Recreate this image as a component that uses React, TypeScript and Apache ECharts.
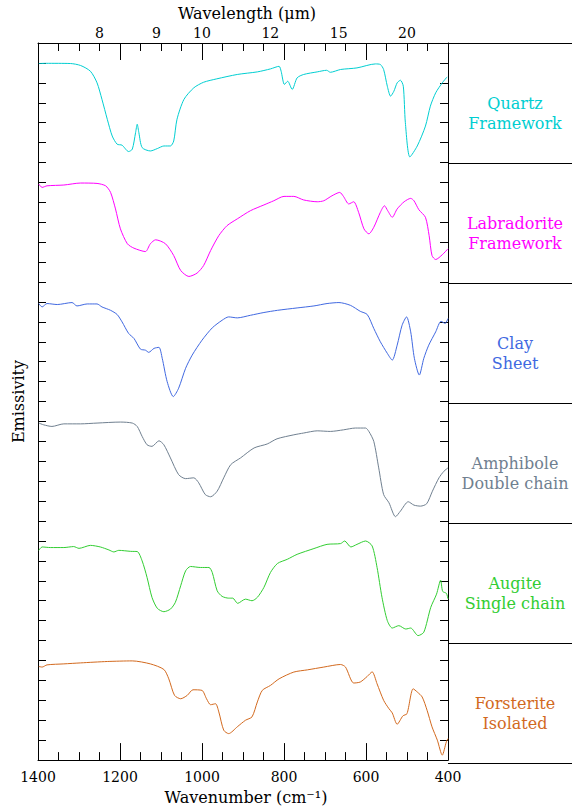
import React, { useEffect, useRef } from "react";
import * as echarts from "echarts";

// ---- data (wavenumber cm^-1, emissivity in tick units within each panel: 0 = panel bottom, 6 = panel top)
const quartz: number[][] = [
  [1398, 4.97], [1380, 4.98], [1321, 4.97], [1296, 4.87], [1272, 4.58], [1256, 4.0], [1244, 3.17],
  [1231, 2.17], [1219, 1.33], [1207, 0.92], [1195, 0.87], [1179, 0.55], [1170, 0.67], [1162, 1.5],
  [1158, 1.92], [1154, 1.5], [1146, 0.75], [1126, 0.58], [1109, 0.7], [1093, 0.83], [1077, 0.83],
  [1069, 1.08], [1061, 2.17], [1044, 3.17], [1020, 3.75], [996, 4.03], [964, 4.2], [914, 4.42],
  [865, 4.55], [833, 4.7], [812, 4.83], [807, 4.58], [799, 3.92], [791, 4.08], [780, 3.67],
  [768, 4.25], [752, 4.42], [719, 4.55], [696, 4.63], [687, 4.53], [662, 4.67], [622, 4.75],
  [577, 4.95], [565, 4.92], [557, 4.67], [548, 3.83], [540, 3.33], [532, 3.58], [524, 4.0],
  [516, 4.13], [509, 3.83], [504, 2.0], [493, 0.28], [475, 0.83], [455, 1.83], [443, 2.83],
  [430, 3.5], [414, 4.0], [402, 4.3],
];
const labradorite: number[][] = [
  [1398, 4.92], [1390, 4.75], [1378, 4.83], [1337, 4.87], [1296, 4.97], [1256, 4.95], [1235, 4.83],
  [1223, 4.5], [1211, 3.67], [1199, 2.67], [1182, 1.92], [1166, 1.7], [1138, 1.53], [1126, 1.92],
  [1113, 2.12], [1089, 1.92], [1069, 1.33], [1052, 0.58], [1032, 0.28], [1012, 0.45], [996, 0.83],
  [979, 1.58], [959, 2.33], [939, 2.83], [914, 3.17], [882, 3.58], [849, 3.87], [825, 4.08],
  [800, 4.3], [776, 4.3], [752, 4.12], [719, 4.03], [703, 4.08], [683, 4.33], [664, 4.5],
  [655, 4.3], [642, 3.92], [630, 4.03], [618, 3.5], [605, 2.67], [593, 2.42], [581, 2.75],
  [565, 3.5], [555, 3.83], [547, 3.58], [536, 3.25], [524, 3.67], [507, 4.03], [491, 4.2],
  [483, 4.08], [471, 3.63], [455, 3.25], [446, 2.33], [439, 1.33], [430, 1.13], [414, 1.37],
  [400, 1.67],
];
const clay: number[][] = [
  [1398, 4.92], [1390, 4.75], [1378, 4.92], [1353, 4.87], [1317, 4.97], [1305, 4.8], [1280, 4.9],
  [1256, 4.9], [1244, 4.75], [1223, 4.58], [1207, 4.37], [1195, 4.0], [1179, 3.42], [1166, 3.17],
  [1150, 2.63], [1138, 2.58], [1130, 2.47], [1117, 2.67], [1105, 2.72], [1097, 2.17], [1085, 1.0],
  [1070, 0.25], [1057, 0.67], [1040, 1.67], [1024, 2.33], [1000, 3.08], [975, 3.7], [951, 4.08],
  [935, 4.25], [914, 4.2], [882, 4.33], [849, 4.47], [816, 4.58], [768, 4.7], [727, 4.8],
  [695, 4.92], [666, 4.97], [638, 4.83], [614, 4.53], [597, 4.37], [581, 3.67], [565, 3.0],
  [548, 2.42], [536, 2.08], [524, 2.83], [512, 3.83], [501, 4.25], [491, 3.5], [482, 2.17],
  [470, 1.33], [459, 2.17], [447, 2.83], [430, 3.5], [417, 4.03], [407, 3.92], [400, 4.17],
];
const amphibole: number[][] = [
  [1398, 4.92], [1386, 4.83], [1366, 4.75], [1337, 4.88], [1296, 4.88], [1256, 4.92], [1199, 4.97],
  [1170, 4.92], [1158, 4.75], [1146, 4.25], [1134, 3.83], [1122, 3.75], [1105, 4.03], [1093, 3.83],
  [1077, 3.17], [1057, 2.33], [1040, 2.13], [1020, 2.17], [1008, 1.92], [992, 1.33], [979, 1.22],
  [963, 1.5], [947, 2.17], [930, 2.83], [906, 3.17], [873, 3.67], [841, 3.87], [817, 4.13],
  [776, 4.33], [752, 4.42], [719, 4.53], [687, 4.5], [655, 4.58], [626, 4.67], [601, 4.67],
  [593, 4.5], [581, 4.0], [569, 2.67], [557, 1.33], [544, 0.92], [528, 0.22], [516, 0.5],
  [497, 0.97], [483, 0.8], [467, 0.75], [452, 0.87], [438, 1.5], [422, 2.17], [410, 2.5],
  [400, 2.67],
];
const augite: number[][] = [
  [1398, 4.53], [1390, 4.7], [1370, 4.67], [1337, 4.67], [1313, 4.72], [1300, 4.63], [1272, 4.78],
  [1248, 4.7], [1227, 4.55], [1215, 4.45], [1203, 4.53], [1174, 4.48], [1158, 4.47], [1146, 4.0],
  [1134, 3.17], [1122, 2.17], [1109, 1.62], [1093, 1.45], [1077, 1.58], [1065, 1.92], [1052, 2.75],
  [1040, 3.5], [1028, 3.72], [1004, 3.67], [983, 3.67], [975, 3.42], [963, 2.5], [951, 2.22],
  [935, 2.13], [925, 2.13], [913, 1.87], [894, 2.08], [878, 2.0], [865, 2.17], [849, 2.67],
  [833, 3.42], [816, 3.87], [792, 4.08], [768, 4.33], [727, 4.62], [695, 4.83], [662, 4.87],
  [652, 5.0], [637, 4.7], [622, 4.83], [601, 5.0], [585, 4.75], [573, 3.67], [561, 2.17],
  [548, 1.0], [536, 0.63], [520, 0.75], [503, 0.58], [491, 0.63], [473, 0.25], [459, 0.42],
  [442, 1.67], [428, 2.33], [418, 3.03], [413, 2.47], [404, 2.37], [400, 2.1],
];
const forsterite: number[][] = [
  [1398, 4.7], [1390, 4.67], [1378, 4.78], [1337, 4.83], [1296, 4.88], [1231, 4.95], [1170, 4.98],
  [1126, 4.83], [1093, 4.55], [1081, 4.08], [1067, 3.25], [1052, 3.08], [1036, 3.25], [1022, 3.53],
  [1000, 3.5], [989, 3.08], [979, 2.78], [967, 2.83], [959, 2.42], [947, 1.5], [935, 1.33],
  [914, 1.67], [894, 2.0], [878, 2.17], [865, 2.92], [853, 3.5], [833, 3.75], [812, 4.08],
  [776, 4.42], [743, 4.53], [703, 4.67], [662, 4.8], [650, 4.67], [630, 3.87], [614, 3.92],
  [597, 4.2], [585, 4.43], [573, 3.83], [557, 3.0], [544, 2.58], [536, 2.37], [524, 1.8],
  [510, 2.22], [500, 2.33], [485, 3.58], [475, 3.42], [463, 3.17], [451, 2.5], [439, 1.67],
  [426, 1.0], [414, 0.25], [404, 0.92], [400, 1.08],
];

const spectra = [quartz, labradorite, clay, amphibole, augite, forsterite];
const mineralNames = ["Quartz", "Labradorite", "Clay", "Amphibole", "Augite", "Forsterite"];
const structureNames = ["Framework", "Framework", "Sheet", "Double chain", "Single chain", "Isolated"];
const colors = ["#00CED1", "#FF00FF", "#4169E1", "#708090", "#32CD32", "#D2691E"];
const wavelengthTicks = [8, 9, 10, 12, 15, 20];

const WN_MIN = 400;
const WN_MAX = 1400;
const WN_STEP = 200;
const PANEL_UNITS = 6;

// ---- layout
const FONT = '"DejaVu Serif", "Liberation Serif", serif';
const W = 572;
const H = 810;
const GRID_LEFT = 38;
const GRID_TOP = 43;
const GRID_W = 410;
const GRID_H = 720;

export default function App() {
  const ref = useRef<HTMLDivElement>(null);

  useEffect(() => {
    if (!ref.current) return;
    const chart = echarts.init(ref.current, undefined, { renderer: "svg" });
    const nPanels = spectra.length;
    const yMax = nPanels * PANEL_UNITS;
    const panelPx = GRID_H / nPanels;
    const black = "#000";

    const baseX = {
      type: "value" as const,
      min: WN_MIN,
      max: WN_MAX,
      inverse: true,
      interval: WN_STEP,
      splitLine: { show: false },
      minorSplitLine: { show: false },
    };

    const series = spectra.map((pts, i) => {
      const offset = (nPanels - 1 - i) * PANEL_UNITS;
      return {
        type: "line",
        name: mineralNames[i],
        xAxisIndex: 0,
        yAxisIndex: 0,
        data: pts.map(([w, v]) => [w, v + offset]),
        showSymbol: false,
        symbol: "none",
        smooth: 0.25,
        lineStyle: { color: colors[i], width: 1 },
        itemStyle: { color: colors[i] },
        silent: true,
      };
    });

    const graphics: any[] = [];
    const rightX = GRID_LEFT + GRID_W;
    for (let k = 0; k <= nPanels; k++) {
      const y = Math.round(GRID_TOP + k * panelPx) + 0.5;
      graphics.push({
        type: "line",
        shape: { x1: rightX, y1: y, x2: W + 20, y2: y },
        style: { stroke: black, lineWidth: 1 },
        silent: true,
      });
    }
    const labelCx = rightX + (W - rightX) / 2 + 5;
    for (let i = 0; i < nPanels; i++) {
      const cy = GRID_TOP + i * panelPx + panelPx / 2;
      graphics.push({
        type: "text",
        x: labelCx,
        y: cy - 10,
        silent: true,
        style: {
          text: mineralNames[i] + "\n" + structureNames[i],
          fill: colors[i],
          fontSize: 16,
          fontFamily: FONT,
          align: "center",
          verticalAlign: "top",
          lineHeight: 20,
        },
      });
    }

    chart.setOption({
      animation: false,
      backgroundColor: "#ffffff",
      textStyle: { fontFamily: FONT },
      grid: { left: GRID_LEFT, top: GRID_TOP, width: GRID_W, height: GRID_H, containLabel: false },
      xAxis: [
        {
          ...baseX,
          position: "bottom",
          axisLine: { show: true, onZero: false, lineStyle: { color: black, width: 1 } },
          axisTick: { show: true, inside: true, length: 17, lineStyle: { color: black, width: 1 } },
          minorTick: { show: true, splitNumber: 4, length: 8, lineStyle: { color: black, width: 1 } },
          axisLabel: {
            show: true,
            fontSize: 14,
            color: black,
            margin: 10,
            fontFamily: FONT,
            formatter: (v: number) => String(v),
          },
          name: "Wavenumber (cm⁻¹)",
          nameLocation: "middle",
          nameGap: 24,
          nameTextStyle: { fontSize: 16, color: black, fontFamily: FONT, padding: [0, 0, 0, 6] },
        },
        {
          ...baseX,
          position: "top",
          axisLine: { show: true, onZero: false, lineStyle: { color: black, width: 1 } },
          axisTick: { show: true, inside: true, length: 17, lineStyle: { color: black, width: 1 } },
          minorTick: { show: true, splitNumber: 4, length: 8, lineStyle: { color: black, width: 1 } },
          axisLabel: { show: false },
        },
        {
          type: "value",
          position: "top",
          min: WN_MIN,
          max: WN_MAX,
          inverse: true,
          axisLine: { show: false, onZero: false },
          axisTick: { show: false },
          splitLine: { show: false },
          axisLabel: {
            show: true,
            customValues: wavelengthTicks.map((l) => 10000 / l),
            formatter: (v: number) => String(Math.round(10000 / v)),
            fontSize: 14,
            color: black,
            margin: 3,
            fontFamily: FONT,
          },
          name: "Wavelength (μm)",
          nameLocation: "middle",
          nameGap: 22,
          nameTextStyle: { fontSize: 16, color: black, fontFamily: FONT, padding: [0, 0, 0, 8] },
        },
      ],
      yAxis: [
        {
          type: "value",
          position: "left",
          min: 0,
          max: yMax,
          interval: 1,
          axisLine: { show: true, onZero: false, lineStyle: { color: black, width: 1 } },
          axisTick: { show: true, inside: true, length: 8, lineStyle: { color: black, width: 1 } },
          axisLabel: { show: false },
          splitLine: { show: false },
          name: "Emissivity",
          nameLocation: "middle",
          nameGap: 12,
          nameTextStyle: { fontSize: 16, color: black, fontFamily: FONT },
        },
        {
          type: "value",
          position: "right",
          min: 0,
          max: yMax,
          interval: 1,
          axisLine: { show: true, onZero: false, lineStyle: { color: black, width: 1 } },
          axisTick: { show: true, inside: true, length: 8, lineStyle: { color: black, width: 1 } },
          axisLabel: { show: false },
          splitLine: { show: false },
        },
      ],
      series,
      graphic: graphics,
    });

    return () => {
      chart.dispose();
    };
  }, []);

  return (
    <div
      ref={ref}
      style={{ position: "absolute", left: 0, top: 0, width: W, height: H, overflow: "hidden", background: "#fff" }}
    />
  );
}
